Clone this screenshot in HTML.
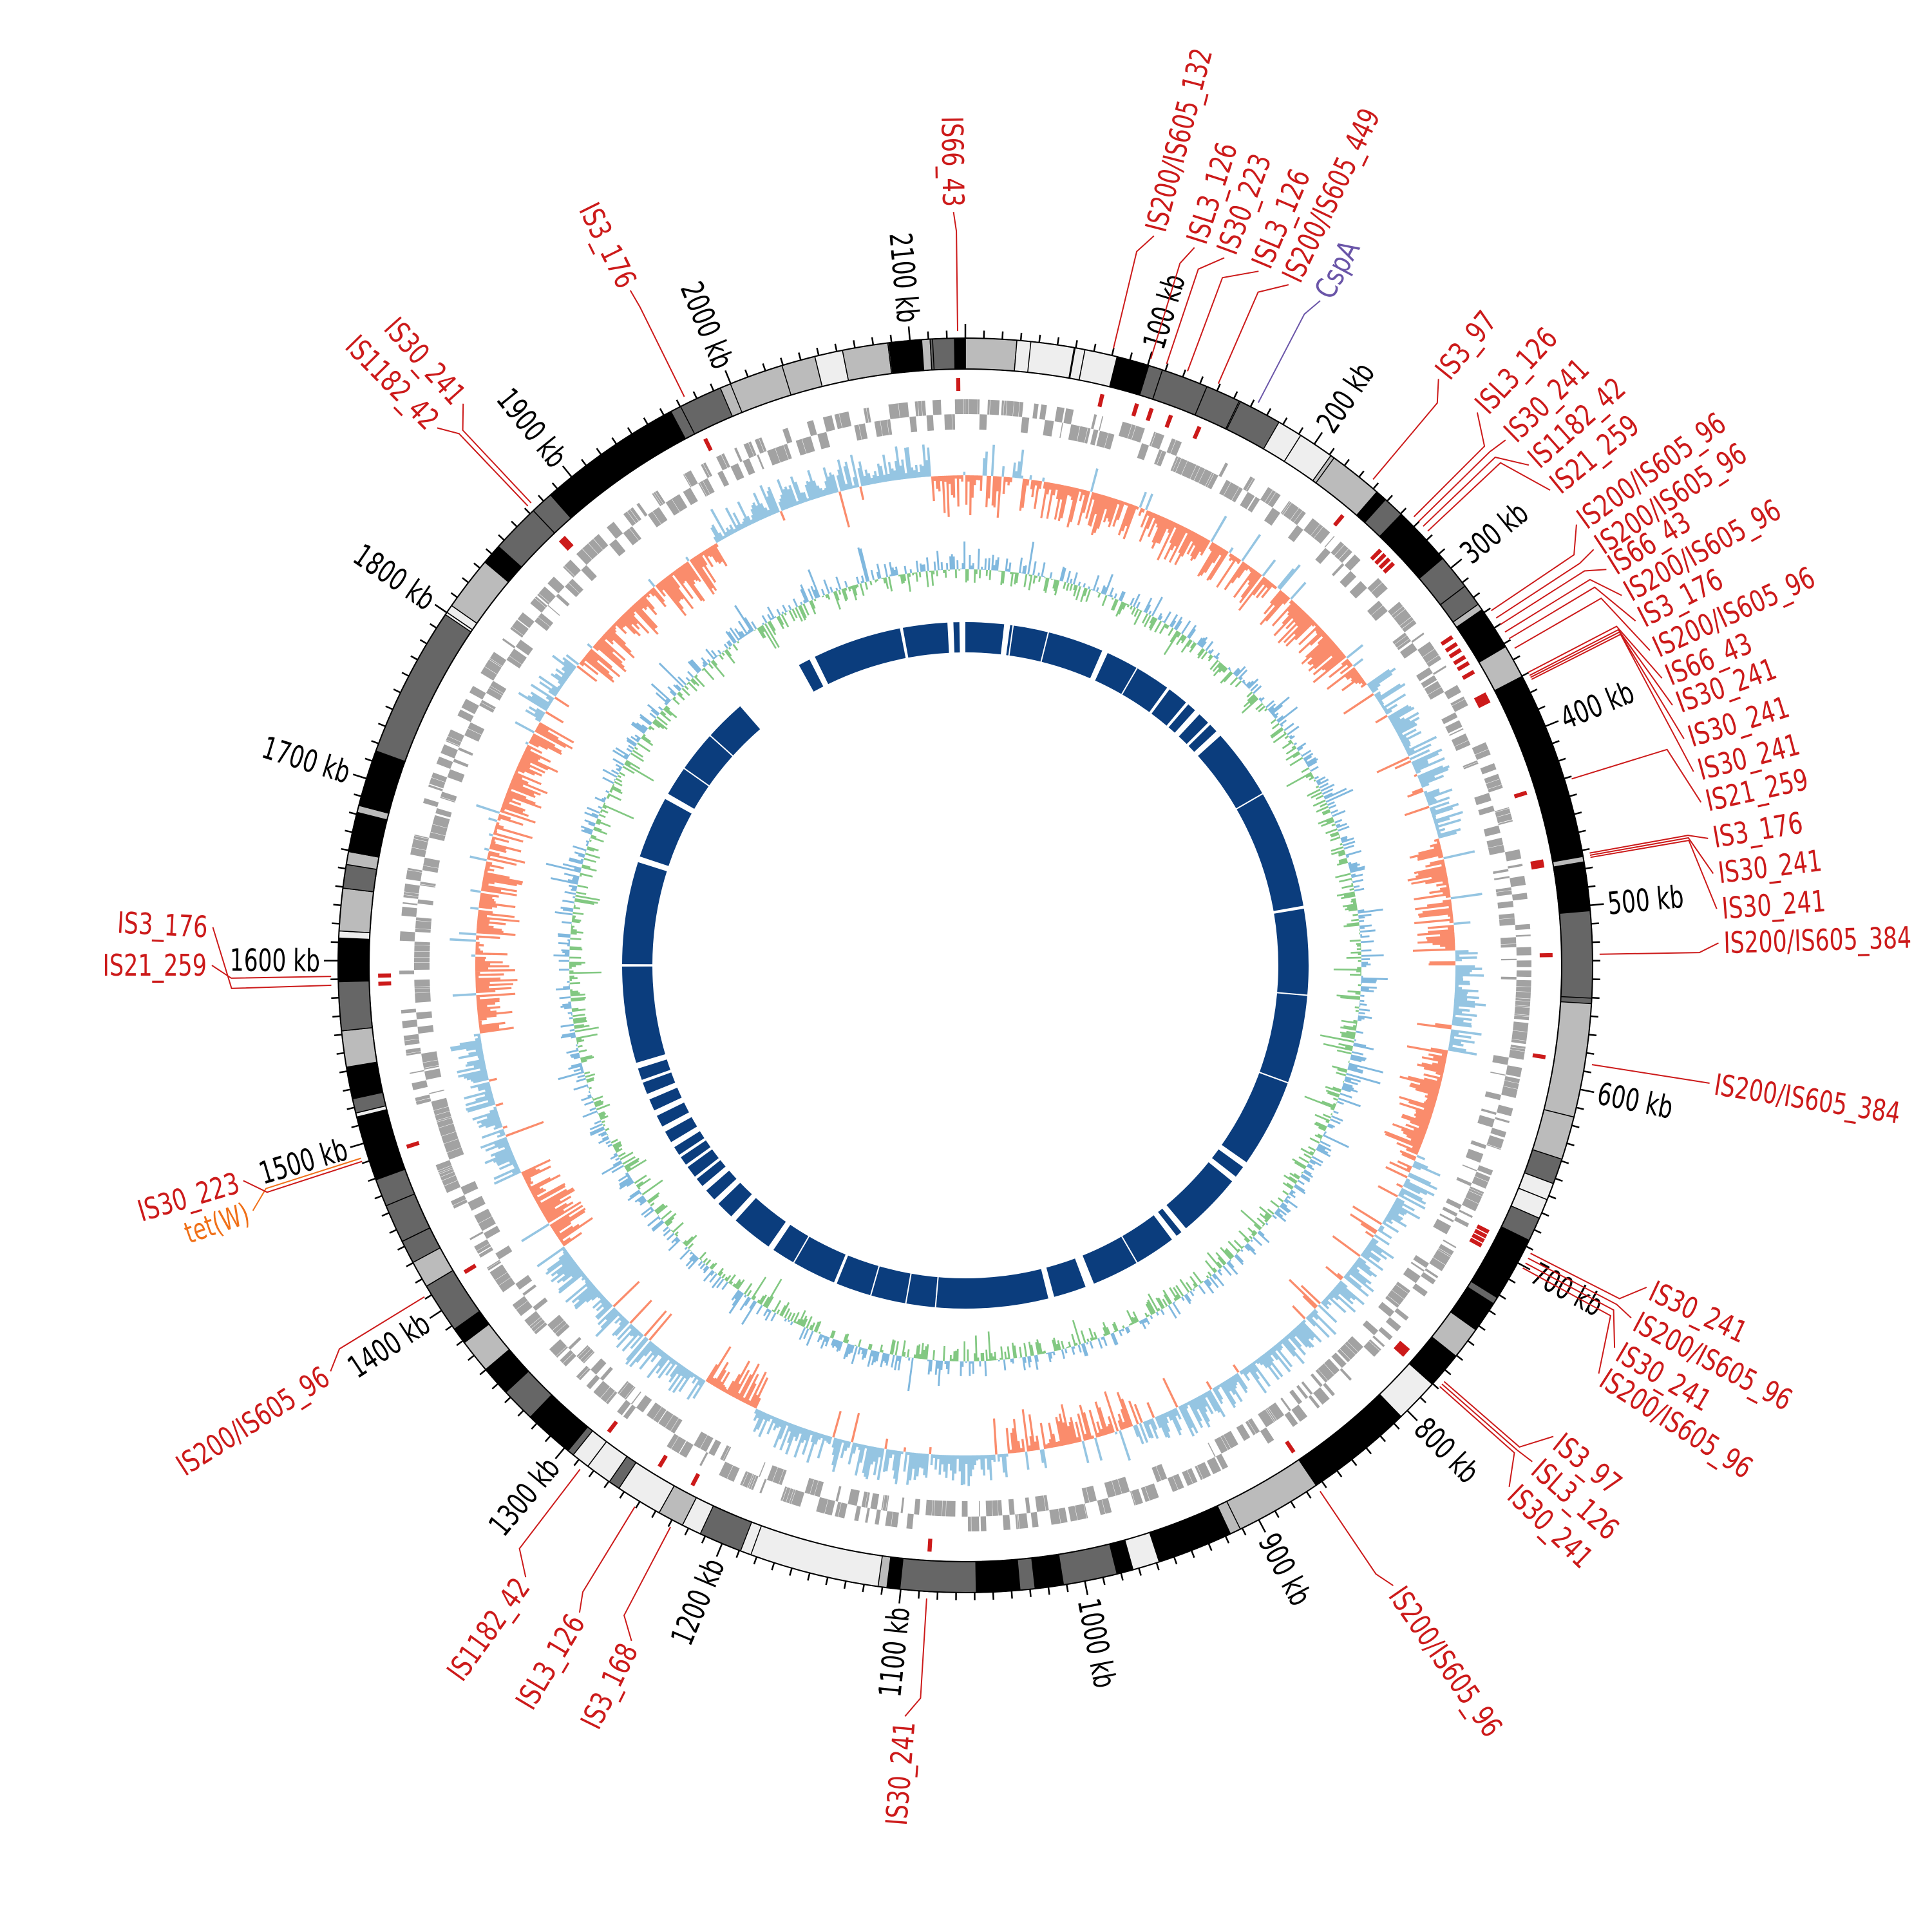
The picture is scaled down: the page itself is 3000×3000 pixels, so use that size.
<!DOCTYPE html>
<html><head><meta charset="utf-8">
<style>
html,body{margin:0;padding:0;background:#fff}
svg{display:block}
text{font-family:"Liberation Sans Narrow","DejaVu Sans Condensed","Liberation Sans",sans-serif}
</style></head>
<body>
<svg id="s" width="3000" height="3000" viewBox="0 0 3000 3000" xmlns="http://www.w3.org/2000/svg"><rect width="3000" height="3000" fill="#fff"/></svg>
<script>
const CX=1499,CY=1499,T=2130;
const NS="http://www.w3.org/2000/svg";
const svg=document.getElementById('s');
function P(r,t){const a=t*Math.PI/180;return [CX+r*Math.sin(a),CY-r*Math.cos(a)];}
function f(v){return v.toFixed(1);}
function sector(r1,r2,a1,a2){
  const L=(a2-a1)>180?1:0;const p1=P(r1,a1),p2=P(r1,a2),p3=P(r2,a2),p4=P(r2,a1);
  return "M"+f(p1[0])+","+f(p1[1])+"A"+r1+","+r1+" 0 "+L+" 1 "+f(p2[0])+","+f(p2[1])+"L"+f(p3[0])+","+f(p3[1])+"A"+r2+","+r2+" 0 "+L+" 0 "+f(p4[0])+","+f(p4[1])+"Z";
}
function el(tag,attrs,parent){const e=document.createElementNS(NS,tag);for(const k in attrs)e.setAttribute(k,attrs[k]);(parent||svg).appendChild(e);return e;}
let seed=12345;
function rnd(){seed|=0;seed=seed+0x6D2B79F5|0;let t=Math.imul(seed^seed>>>15,1|seed);t=t+Math.imul(t^t>>>7,61|t)^t;return((t^t>>>14)>>>0)/4294967296;}
const CW={'I':.228,'S':.547,'L':.456,'W':.774,'A':.547,'C':.592,'p':.456,'t':.228,'e':.456,'(':.273,')':.273,'/':.228,'_':.456,'k':.41,'b':.456,' ':.228};
function tw(s,fs){let w=0;for(const c of s)w+=(CW[c]!==undefined?CW[c]:.456);return w*fs;}
function label(txt,r,th,fs,color){
  const p=P(r,th);let rot,anchor;
  if(th<180){rot=th-90;anchor="start";}else{rot=th+90;anchor="end";}
  const t=el('text',{x:f(p[0]),y:f(p[1]),dy:"0.35em",'font-size':fs,fill:color,'text-anchor':anchor,
    transform:"rotate("+f(rot)+" "+f(p[0])+" "+f(p[1])+")",textLength:f(tw(txt,fs)),lengthAdjust:"spacingAndGlyphs"});
  t.textContent=txt;
}

/* ---------- karyotype band ---------- */
const cols=['#000','#666','#bbb','#eee','#000','#bbb','#eee','#666'];
const g1=el('g',{stroke:'#000','stroke-width':1.5});
let a=0;const bands=[];
while(a<360){const l=0.6+rnd()*4.2;const b=Math.min(360,a+l);bands.push([a,b,cols[Math.floor(rnd()*cols.length)]]);a=b;}
const spec=[[320,332,'#000'],[290,304,'#666'],[305,310,'#bbb'],[268.5,272.5,'#000'],[264,268.5,'#666'],[250,256,'#000'],
[66,80,'#000'],[80.5,84.5,'#000'],[85,93,'#666'],[93.5,104,'#bbb'],[104,108,'#bbb'],[116,122,'#000'],[136,146,'#000'],
[146,154,'#bbb'],[155,162,'#000'],[166,171,'#666'],[175,179,'#000'],[179,186,'#666'],[188,200,'#eee'],[201,205,'#666'],
[333,337,'#666'],[338,343,'#bbb'],[353,356,'#000'],[357,359,'#666'],[6,10,'#eee'],[14,17,'#000'],[26,30,'#666'],[36,41,'#bbb']];
for(const b of bands.concat(spec))el('path',{d:sector(974,926,b[0],b[1]),fill:b[2]},g1);
el('circle',{cx:CX,cy:CY,r:974,fill:'none',stroke:'#000','stroke-width':2});
el('circle',{cx:CX,cy:CY,r:926,fill:'none',stroke:'#000','stroke-width':2});

/* ---------- ticks ---------- */
let td="";
for(let kb=0;kb<=T-5;kb+=10){const th=kb/T*360;const maj=kb%100===0;const p1=P(974,th),p2=P(maj?996:986,th);
  td+="M"+f(p1[0])+","+f(p1[1])+"L"+f(p2[0])+","+f(p2[1]);}
el('path',{d:td,stroke:'#000','stroke-width':2.5,fill:'none'});
for(let kb=100;kb<=2100;kb+=100){label(kb+" kb",1002,kb/T*360,48,'#000');}

/* ---------- genes ---------- */
let gd0="";a=0;
while(a<360){const l=0.12+rnd()*0.9;const lane=rnd()<0.5?0:1;const b=Math.min(360,a+l);
  const r1=lane?879:856,r2=lane?856:832;
  if(b-a>0.05)gd0+=sector(r1,r2,a,b-0.03);
  a=b+(rnd()<0.85?0.005:rnd()*0.7);}
el('path',{d:gd0,fill:'#a2a2a2'});

/* ---------- labels data ---------- */
const R='#cc1a1a';
const labs=[
["IS200/IS605_132",14.5,13.5],["ISL3_126",17.7,17],["IS30_223",20.1,18.5],["ISL3_126",22.9,20.5],["IS200/IS605_449",25.4,23.5],
["CspA",28.1,27.5,'#6a55a8'],["IS3_97",38.9,40],["ISL3_126",42.8,45],["IS30_241",45.8,45.6],["IS1182_42",48.4,46.2],["IS21_259",50.9,46.8],
["IS200/IS605_96",54.2,56],["IS200/IS605_96",56.5,56.8],["IS66_43",58.3,57.5],["IS200/IS605_96",60.6,58.3],["IS3_176",62.8,59],
["IS200/IS605_96",65.3,60],["IS66_43",67.6,62.5],["IS30_241",69.8,62.8],["IS30_241",72.5,63],["IS30_241",75.1,63.2],
["IS21_259",77.5,72.9],["IS3_176",80.3,79.8],["IS30_241",83,80],["IS30_241",85.7,80.2],["IS200/IS605_384",88.3,89],
["IS200/IS605_384",99,99],["IS30_241",115.3,117],["IS200/IS605_96",117.9,117.5],["IS30_241",120.5,118],["IS200/IS605_96",122.8,118.5],
["IS3_97",128.7,131],["ISL3_126",131.2,131.3],["IS30_241",133.8,131.6],["IS200/IS605_96",145.4,146],
["IS30_241",184.6,183.5],["IS3_168",206.3,207.7],["ISL3_126",210.8,211.4],["IS1182_42",215.7,217.4],["IS200/IS605_96",237.4,238.5],
["tet(W)",251,252.3,'#f07018'],["IS30_223",253.4,252],["IS21_259",270,269],["IS3_176",272.9,268.2],
["IS1182_42",315.5,316.4],["IS30_241",318.2,316.8],["IS3_176",333.6,333.7],["IS66_43",359.1,359.3]];

/* red marks */
let rm="";
for(const L of labs){if(L[3])continue;rm+=sector(912,892,L[2]-0.2,L[2]+0.2);}
el('path',{d:rm,fill:'#cc1a1a'});

/* ---------- GC skew ---------- */
const reg=[[0,55,-1],[55,75,1],[75,88,-1],[88,100,1],[100,115,-1],[115,160,1],[160,175,-1],[175,205,1],[205,212,-1],[212,235,1],[235,245,-1],[245,262,1],[262,300,-1],[300,308,1],[308,330,-1],[330,356,1],[356,360,-1]];
function sg(th){for(const r of reg)if(th>=r[0]&&th<r[1])return r[2];return 1;}
let bl="",rd="";const SB=761;
for(let i=0;i<1440;i++){const th=i*0.25;let s=sg(th);if(rnd()<0.08)s=-s;
  let v=Math.pow(rnd(),1.3)*(s<0?62:48)+4;
  if(s>0)bl+=sector(SB+v,SB,th,th+0.26);else rd+=sector(SB,SB-v,th,th+0.26);}
el('path',{d:bl,fill:'#95c5e2'});
el('path',{d:rd,fill:'#fa8c6c'});

/* ---------- GC content ---------- */
let gb="",gg="";const GB=615;
for(let i=0;i<1440;i++){const th=i*0.25;let v=(rnd()-0.5)*50;if(rnd()<0.1)v*=2.2;
  if(v>0)gb+=sector(GB+v,GB,th,th+0.26);else gg+=sector(GB,GB+v,th,th+0.26);}
el('path',{d:gb,fill:'#80b8de'});
el('path',{d:gg,fill:'#82c882'});

/* ---------- blue ring ---------- */
const segs=[[331,333],[334,349],[349.5,357],[358,359],[0,6.5],[7.5,23.5],[24.5,36],[36.5,40],[40.5,42],[43,45],[45.5,47],[48,80],[80.5,125],[126,128],[129,140],[141,142],[143,158],[159.5,165],[166,202],[202.5,214],[215,222],[223,226],[227,229],[230,231.5],[232,234],[234.5,236],[236.5,238],[239,241],[242,244],[245,247],[248,250],[250.5,252.5],[253.5,269.8],[270.2,287.5],[288.5,299],[300,319]];
let bd="";for(const s of segs)bd+=sector(533,486,s[0],s[1]);
el('path',{d:bd,fill:'#0b3d7d'});
let wl="";for(const th of [8,14,30,60,95,110,150,185,190,196,210,305,312]){const p1=P(535,th),p2=P(484,th);wl+="M"+f(p1[0])+","+f(p1[1])+"L"+f(p2[0])+","+f(p2[1]);}
el('path',{d:wl,stroke:'#fff','stroke-width':2,fill:'none'});

/* ---------- labels + leaders ---------- */
for(const L of labs){const c=L[3]||R;const A=P(985,L[2]),B=P(1140,L[2]),C=P(1170,L[1]);
  el('polyline',{points:f(A[0])+","+f(A[1])+" "+f(B[0])+","+f(B[1])+" "+f(C[0])+","+f(C[1]),fill:'none',stroke:c,'stroke-width':2});
  label(L[0],1178,L[1],46,c);}
</script>
</body></html>
